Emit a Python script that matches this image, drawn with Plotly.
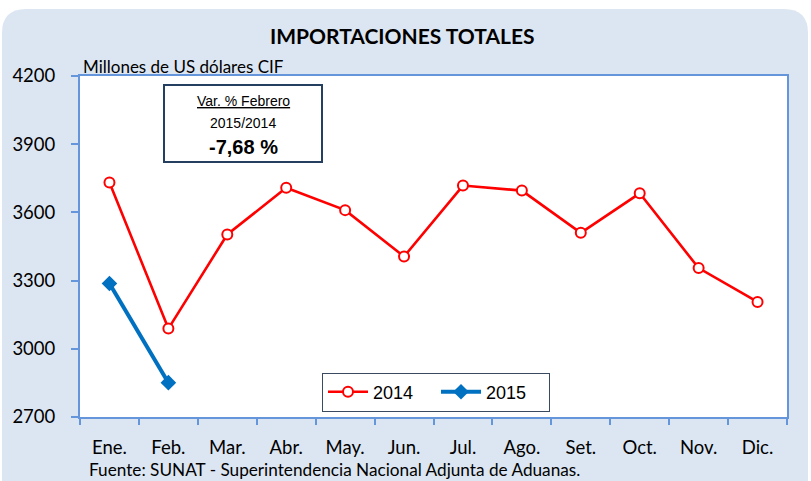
import plotly.graph_objects as go

meses = ["Ene.", "Feb.", "Mar.", "Abr.", "May.", "Jun.", "Jul.", "Ago.", "Set.", "Oct.", "Nov.", "Dic."]
valores_2014 = [3732, 3089, 3503, 3708, 3610, 3406, 3718, 3696, 3510, 3684, 3355, 3206]
valores_2015 = [3287, 2851]
y_ticks = [2700, 3000, 3300, 3600, 3900, 4200]

W, H = 811, 481
L, R, T, B = 80, 24, 76, 64
PW, PH = W - L - R, H - T - B

def px(x):
    return (x - L) / PW

def py(y):
    return (H - B - y) / PH

AXIS_BLUE = "#6595DA"
BG_BLUE = "#DCE6F2"

fig = go.Figure()
fig.add_trace(go.Scatter(
    x=meses, y=valores_2014, name="2014", mode="lines+markers",
    line=dict(color="#FF0000", width=2.6),
    marker=dict(symbol="circle", size=10, color="white", line=dict(color="#FF0000", width=2)),
))
fig.add_trace(go.Scatter(
    x=meses[:len(valores_2015)], y=valores_2015, name="2015", mode="lines+markers",
    line=dict(color="#0070C0", width=4),
    marker=dict(symbol="diamond", size=12, color="#0070C0"),
))

# rounded light-blue background
x0, y0, x1, y1, r = 2, 9, 808, 530, 24
path = (f"M {px(x0+r)},{py(y0)} L {px(x1-r)},{py(y0)} Q {px(x1)},{py(y0)} {px(x1)},{py(y0+r)} "
        f"L {px(x1)},{py(y1-r)} Q {px(x1)},{py(y1)} {px(x1-r)},{py(y1)} "
        f"L {px(x0+r)},{py(y1)} Q {px(x0)},{py(y1)} {px(x0)},{py(y1-r)} "
        f"L {px(x0)},{py(y0+r)} Q {px(x0)},{py(y0)} {px(x0+r)},{py(y0)} Z")
shapes = [
    dict(type="path", path=path, xref="paper", yref="paper", fillcolor=BG_BLUE, line=dict(width=0), layer="below"),
    dict(type="rect", x0=0, x1=1, y0=0, y1=1, xref="paper", yref="paper", fillcolor="white", line=dict(width=0), layer="below"),
    dict(type="rect", x0=px(164), x1=px(322), y0=py(162), y1=py(85), xref="paper", yref="paper",
         fillcolor="white", line=dict(color="#243F60", width=2), layer="above"),
]

def note(text, x, y, size, family, xanchor="center"):
    return dict(text=text, x=px(x), y=py(y), xref="paper", yref="paper", xanchor=xanchor,
                yanchor="middle", showarrow=False, font=dict(family=family, size=size, color="black"))

annotations = [
    note("<b>IMPORTACIONES TOTALES</b>", 402, 35, 21, "Lato"),
    note("Millones de US dólares CIF", 81, 66, 17, "Lato", "left"),
    note("Fuente: SUNAT - Superintendencia Nacional Adjunta de Aduanas.", 87, 469, 17.2, "Lato", "left"),
    note("<u>Var. % Febrero</u>", 243, 101, 14, "Liberation Sans"),
    note("2015/2014", 243, 123, 14, "Liberation Sans"),
    note("<b>-7,68 %</b>", 243, 147, 20, "Liberation Sans"),
]

fig.update_layout(
    width=W, height=H,
    margin=dict(l=L, r=R, t=T, b=B, autoexpand=False),
    paper_bgcolor="white", plot_bgcolor="rgba(0,0,0,0)",
    shapes=shapes, annotations=annotations,
    showlegend=True,
    legend=dict(orientation="h", x=px(436), y=py(392), xanchor="center", yanchor="middle",
                bgcolor="white", bordercolor="#3A4A60", borderwidth=1,
                entrywidth=58, entrywidthmode="pixels", itemwidth=40,
                font=dict(family="Liberation Sans", size=18, color="black")),
    xaxis=dict(type="category", categoryorder="array", categoryarray=meses, range=[-0.5, 11.5],
               showline=True, linecolor=AXIS_BLUE, linewidth=2, mirror=True,
               ticks="outside", tickson="boundaries", ticklen=6, tickwidth=1.5, tickcolor=AXIS_BLUE,
               showgrid=False, zeroline=False, ticklabelstandoff=13,
               tickfont=dict(family="Lato", size=18.5, color="black")),
    yaxis=dict(range=[2700, 4200], tickvals=y_ticks,
               showline=True, linecolor=AXIS_BLUE, linewidth=2, mirror=True,
               ticks="outside", ticklen=7, tickwidth=1.5, tickcolor=AXIS_BLUE,
               showgrid=False, zeroline=False, ticklabelstandoff=12,
               tickfont=dict(family="Lato", size=18.5, color="black")),
)

fig.write_html("out.html", config={"displayModeBar": False},
               post_script="document.body.style.margin='0';document.body.style.padding='0';")
